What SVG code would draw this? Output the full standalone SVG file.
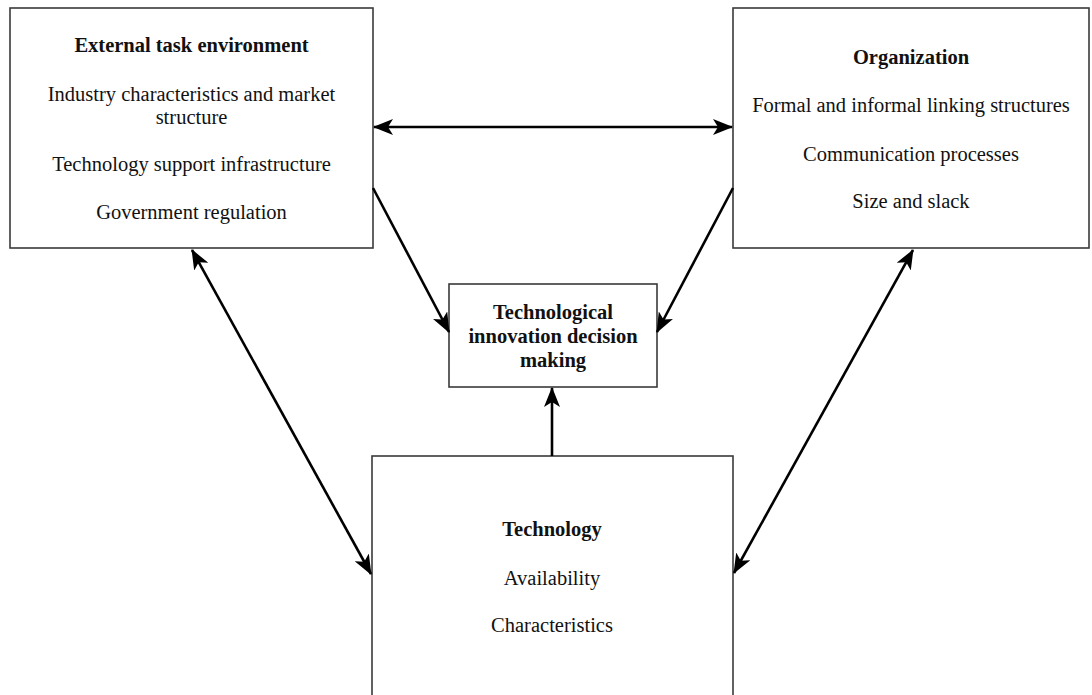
<svg xmlns="http://www.w3.org/2000/svg" width="1092" height="695" viewBox="0 0 1092 695">
  <style>
    .box { fill: #ffffff; stroke: #3a3a3a; stroke-width: 1.6; }
    .title { font-family: "Liberation Serif", "Times New Roman", serif; font-size: 20.5px; font-weight: bold; fill: #111; text-anchor: middle; }
    .item { font-family: "Liberation Serif", "Times New Roman", serif; font-size: 20.5px; fill: #111; text-anchor: middle; }
    .link { stroke: #000; stroke-width: 2.6; fill: none; }
  </style>
  <defs>
    <marker id="head" viewBox="0 0 20 16" refX="19" refY="8" markerWidth="20" markerHeight="16" markerUnits="userSpaceOnUse" orient="auto-start-reverse">
      <path d="M0,0 L20,8 L0,16 L5,8 Z" fill="#000"/>
    </marker>
  </defs>
  <rect width="1092" height="695" fill="#ffffff"/>

  <g id="external-task-environment">
    <rect class="box" x="10" y="8" width="363" height="240"/>
    <text class="title" x="191.5" y="52">External task environment</text>
    <text class="item" x="191.5" y="101">Industry characteristics and market</text>
    <text class="item" x="191.5" y="124">structure</text>
    <text class="item" x="191.5" y="171">Technology support infrastructure</text>
    <text class="item" x="191.5" y="219">Government regulation</text>
  </g>

  <g id="organization">
    <rect class="box" x="733" y="8" width="356" height="240"/>
    <text class="title" x="911" y="64">Organization</text>
    <text class="item" x="911" y="112">Formal and informal linking structures</text>
    <text class="item" x="911" y="161">Communication processes</text>
    <text class="item" x="911" y="208">Size and slack</text>
  </g>

  <g id="decision-making">
    <rect class="box" x="449" y="284" width="208" height="103"/>
    <text class="title" x="553" y="319">Technological</text>
    <text class="title" x="553" y="343">innovation decision</text>
    <text class="title" x="553" y="367">making</text>
  </g>

  <g id="technology">
    <rect class="box" x="372" y="456" width="361" height="260"/>
    <text class="title" x="552" y="536">Technology</text>
    <text class="item" x="552" y="585">Availability</text>
    <text class="item" x="552" y="632">Characteristics</text>
  </g>

  <g id="connectors">
    <line class="link" x1="374" y1="127" x2="732" y2="127" marker-start="url(#head)" marker-end="url(#head)"/>
    <line class="link" x1="373" y1="188" x2="449" y2="332" marker-end="url(#head)"/>
    <line class="link" x1="733" y1="188" x2="657" y2="332" marker-end="url(#head)"/>
    <line class="link" x1="552" y1="456" x2="552" y2="388" marker-end="url(#head)"/>
    <line class="link" x1="192" y1="250" x2="371" y2="574" marker-start="url(#head)" marker-end="url(#head)"/>
    <line class="link" x1="913" y1="250" x2="734" y2="573" marker-start="url(#head)" marker-end="url(#head)"/>
  </g>
</svg>
